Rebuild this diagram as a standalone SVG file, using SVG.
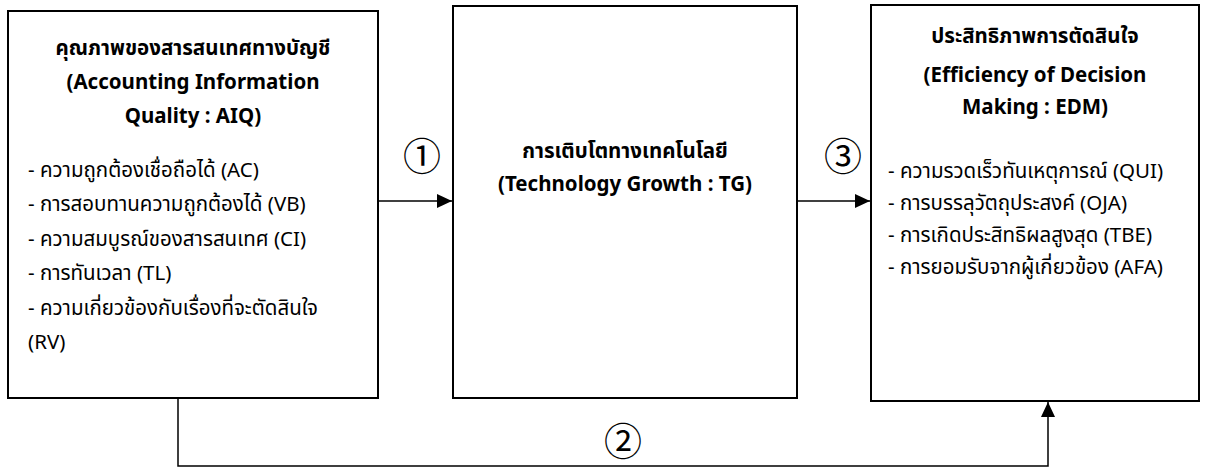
<svg xmlns="http://www.w3.org/2000/svg" width="1209" height="471" viewBox="0 0 1209 471">
<style>
.box{fill:#fff;stroke:#000;stroke-width:2}
.t{font-family:"Noto Sans","Noto Sans Thai","Leelawadee UI",Tahoma,sans-serif;font-size:20.5px;fill:#000}
.h{font-weight:bold;text-anchor:middle}
.c{stroke:#000;stroke-width:1.5;fill:none}
.num{font-family:"Noto Sans CJK JP","DejaVu Sans",serif;font-size:38px;fill:#000;text-anchor:middle}
</style>
<defs>
<marker id="ah" viewBox="0 0 15 14" refX="15" refY="7" markerWidth="15" markerHeight="14" markerUnits="userSpaceOnUse" orient="auto">
<path d="M0,0 L15,7 L0,14 z" fill="#000"/>
</marker>
</defs>
<g id="connectors">
<line class="c" x1="378" y1="201" x2="452" y2="201" marker-end="url(#ah)"/>
<line class="c" x1="797" y1="201" x2="870" y2="201" marker-end="url(#ah)"/>
<path class="c" d="M178,398 V466 H1048 V402" marker-end="url(#ah)"/>
<text class="num" x="422" y="170">①</text>
<text class="num" x="843" y="170">③</text>
<text class="num" x="623" y="455">②</text>
</g>
<g id="node-aiq">
<rect class="box" x="8" y="11" width="370" height="387"/>
<text class="t h" x="193" y="55">คุณภาพของสารสนเทศทางบัญชี</text>
<text class="t h" x="193" y="89">(Accounting Information</text>
<text class="t h" x="193" y="123">Quality : AIQ)</text>
<text class="t" x="28" y="177">- ความถูกต้องเชื่อถือได้ (AC)</text>
<text class="t" x="28" y="211">- การสอบทานความถูกต้องได้ (VB)</text>
<text class="t" x="28" y="246">- ความสมบูรณ์ของสารสนเทศ (CI)</text>
<text class="t" x="28" y="280">- การทันเวลา (TL)</text>
<text class="t" x="28" y="315">- ความเกี่ยวข้องกับเรื่องที่จะตัดสินใจ</text>
<text class="t" x="28" y="349">(RV)</text>
</g>
<g id="node-tg">
<rect class="box" x="453" y="6" width="344" height="392"/>
<text class="t h" x="625" y="158">การเติบโตทางเทคโนโลยี</text>
<text class="t h" x="625" y="191">(Technology Growth : TG)</text>
</g>
<g id="node-edm">
<rect class="box" x="871" y="5" width="328" height="396"/>
<text class="t h" x="1035" y="43">ประสิทธิภาพการตัดสินใจ</text>
<text class="t h" x="1035" y="82">(Efficiency of Decision</text>
<text class="t h" x="1035" y="114">Making : EDM)</text>
<text class="t" x="888" y="178">- ความรวดเร็วทันเหตุการณ์ (QUI)</text>
<text class="t" x="888" y="210">- การบรรลุวัตถุประสงค์ (OJA)</text>
<text class="t" x="888" y="242">- การเกิดประสิทธิผลสูงสุด (TBE)</text>
<text class="t" x="888" y="274">- การยอมรับจากผู้เกี่ยวข้อง (AFA)</text>
</g>
</svg>
